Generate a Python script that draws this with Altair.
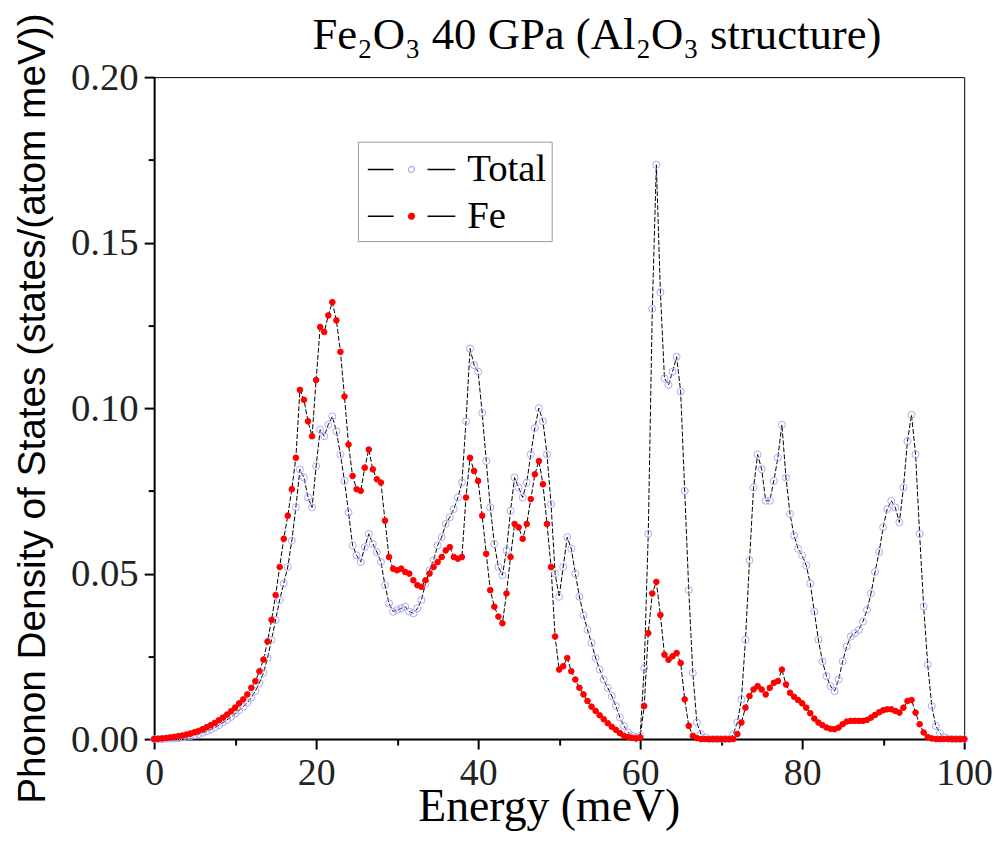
import altair as alt
import pandas as pd

# Energy grid (meV), 0.5 meV steps
energy = [i * 0.5 for i in range(201)]

# Total phonon DOS (states/(atom meV))
total = [
    0, 0, 0, 0.0001, 0.0001, 0.0002, 0.0003, 0.0005, 0.0007, 0.0009,
    0.0012, 0.0015, 0.0019, 0.0024, 0.0029, 0.0035, 0.0042, 0.0050, 0.0058, 0.0067,
    0.0077, 0.0087, 0.0098, 0.0110, 0.0125, 0.0145, 0.0170, 0.0200, 0.0245, 0.0300,
    0.0360, 0.0420, 0.0470, 0.0520, 0.0600, 0.0700, 0.0815, 0.0790, 0.0730, 0.0700,
    0.0825, 0.0935, 0.0915, 0.0950, 0.0975, 0.0930, 0.0860, 0.0780, 0.0685, 0.0585,
    0.0555, 0.0535, 0.0580, 0.0620, 0.0590, 0.0565, 0.0535, 0.0465, 0.0410, 0.0385,
    0.0390, 0.0395, 0.0400, 0.0385, 0.0380, 0.0395, 0.0420, 0.0470, 0.0510, 0.0540,
    0.0585, 0.0610, 0.0650, 0.0670, 0.0695, 0.0730, 0.0775, 0.0960, 0.1180, 0.1130,
    0.1110, 0.0985, 0.0840, 0.0700, 0.0590, 0.0520, 0.0495, 0.0570, 0.0690, 0.0790,
    0.0760, 0.0730, 0.0775, 0.0860, 0.0940, 0.1000, 0.0960, 0.0860, 0.0710, 0.0500,
    0.0430, 0.0520, 0.0610, 0.0575, 0.0500, 0.0430, 0.0375, 0.0330, 0.0290, 0.0245,
    0.0210, 0.0180, 0.0155, 0.0130, 0.0100, 0.0065, 0.0040, 0.0020, 0.0010, 0.0005,
    0.0010, 0.0215, 0.0620, 0.1300, 0.1735, 0.1350, 0.1090, 0.1070, 0.1110, 0.1155,
    0.1050, 0.0750, 0.0450, 0.0200, 0.0050, 0.0015, 0.0005, 0, 0, 0,
    0, 0, 0, 0.0015, 0.0050, 0.0120, 0.0300, 0.0540, 0.0760, 0.0860,
    0.0815, 0.0720, 0.0720, 0.0780, 0.0850, 0.0950, 0.0790, 0.0680, 0.0615, 0.0575,
    0.0555, 0.0525, 0.0470, 0.0385, 0.0300, 0.0235, 0.0190, 0.0160, 0.0145, 0.0180,
    0.0235, 0.0280, 0.0310, 0.0320, 0.0330, 0.0355, 0.0390, 0.0440, 0.0505, 0.0565,
    0.0640, 0.0695, 0.0720, 0.0700, 0.0655, 0.0760, 0.0900, 0.0980, 0.0860, 0.0620,
    0.0400, 0.0225, 0.0100, 0.0040, 0.0018, 0.0006, 0.0002, 0, 0, 0,
    0,
]

# Fe partial DOS
fe = [
    0.0000, 0.0001, 0.0002, 0.0003, 0.0005, 0.0007, 0.0009, 0.0011, 0.0014, 0.0017,
    0.0021, 0.0025, 0.0030, 0.0036, 0.0042, 0.0049, 0.0057, 0.0065, 0.0074, 0.0084,
    0.0095, 0.0108, 0.0120, 0.0135, 0.0155, 0.0175, 0.0205, 0.0240, 0.0295, 0.0360,
    0.0435, 0.0520, 0.0605, 0.0675, 0.0755, 0.0850, 0.1055, 0.1025, 0.0960, 0.0915,
    0.1085, 0.1245, 0.1230, 0.1280, 0.1320, 0.1265, 0.1170, 0.1035, 0.0890, 0.0795,
    0.0755, 0.0750, 0.0820, 0.0875, 0.0815, 0.0785, 0.0775, 0.0660, 0.0550, 0.0515,
    0.0510, 0.0515, 0.0505, 0.0500, 0.0480, 0.0465, 0.0460, 0.0480, 0.0500, 0.0520,
    0.0535, 0.0550, 0.0570, 0.0580, 0.0550, 0.0545, 0.0550, 0.0730, 0.0850, 0.0810,
    0.0780, 0.0675, 0.0560, 0.0450, 0.0400, 0.0370, 0.0350, 0.0440, 0.0550, 0.0650,
    0.0640, 0.0605, 0.0650, 0.0725, 0.0800, 0.0840, 0.0770, 0.0650, 0.0520, 0.0310,
    0.0210, 0.0220, 0.0245, 0.0205, 0.0180, 0.0155, 0.0135, 0.0115, 0.0098, 0.0085,
    0.0072, 0.0060, 0.0048, 0.0037, 0.0028, 0.0018, 0.0010, 0.0006, 0.0004, 0.0002,
    0.0005, 0.0100, 0.0320, 0.0440, 0.0475, 0.0375, 0.0255, 0.0240, 0.0250, 0.0260,
    0.0230, 0.0120, 0.0040, 0.0010, 0.0003, 0, 0, 0, 0, 0,
    0, 0, 0, 0, 0.0015, 0.0050, 0.0095, 0.0130, 0.0150, 0.0160,
    0.0150, 0.0135, 0.0155, 0.0170, 0.0175, 0.0210, 0.0165, 0.0140, 0.0128, 0.0118,
    0.0108, 0.0095, 0.0078, 0.0062, 0.0050, 0.0042, 0.0035, 0.0031, 0.0030, 0.0035,
    0.0045, 0.0053, 0.0055, 0.0055, 0.0055, 0.0055, 0.0058, 0.0065, 0.0073, 0.0081,
    0.0087, 0.0090, 0.0090, 0.0085, 0.0080, 0.0095, 0.0115, 0.0118, 0.0080, 0.0045,
    0.0020, 0.0006, 0.0002, 0, 0, 0, 0, 0, 0, 0,
    0,
]

series_names = ["Total", "Fe"]
legend_labels = ["Total ", "Fe "]
x_ticks = [0, 20, 40, 60, 80, 100]
x_minor = [10, 30, 50, 70, 90]
y_ticks = [0.0, 0.05, 0.10, 0.15, 0.20]
y_minor = [0.025, 0.075, 0.125, 0.175]
title_text = "Fe₂O₃ 40 GPa (Al₂O₃ structure)"

rows = []
for name, lab, vals in (("Total", legend_labels[0], total), ("Fe", legend_labels[1], fe)):
    for e, v in zip(energy, vals):
        rows.append({"energy": e, "dos": v, "series": name, "label": lab})
df = pd.DataFrame(rows)

W, H = 815, 666
LAV = "#a9a9f5"
RED = "#ff0000"
SERIF = "Liberation Serif"
SANS = "Liberation Sans"

x_enc = alt.X(
    "energy:Q",
    scale=alt.Scale(domain=[0, 100], nice=False),
    axis=alt.Axis(orient="bottom", values=x_ticks, title="Energy (meV)", format="d",
                  labelFont=SERIF, labelFontSize=38, labelColor="#222222", labelPadding=6,
                  labelFlush=False, titleFont=SERIF, titleFontSize=46, titlePadding=-8,
                  titleX=397, titleFontWeight="normal", titleColor="black",
                  domainColor="black", domainWidth=2, tickColor="black", tickWidth=2,
                  tickSize=10, grid=False),
)
y_enc = alt.Y(
    "dos:Q",
    scale=alt.Scale(domain=[0, 0.2], nice=False),
    axis=alt.Axis(orient="left", values=y_ticks, format=".2f",
                  title="Phonon Density of States (states/(atom meV))",
                  labelFont=SERIF, labelFontSize=39, labelColor="#222222", labelPadding=6,
                  titleFont=SANS, titleFontSize=39, titlePadding=18,
                  titleFontWeight="normal", titleColor="black",
                  domainColor="black", domainWidth=2, tickColor="black", tickWidth=2,
                  tickSize=10, grid=False),
)
x_plain = alt.X("energy:Q", axis=None)
y_plain = alt.Y("dos:Q", axis=None)

LEG_X, LEG_Y = 205, 65
common_leg = dict(
    orient="none", legendX=LEG_X, legendY=LEG_Y, title=None,
    symbolSize=1936, labelFont=SERIF, labelFontSize=39, padding=5,
    rowPadding=4, labelOffset=55, symbolOffset=4,
)

lines = alt.Chart(df).mark_line(color="black", strokeWidth=1, strokeDash=[5, 2]).encode(
    x=x_enc, y=y_enc,
    opacity=alt.Opacity(
        "label:N",
        scale=alt.Scale(domain=legend_labels, range=[1, 1]),
        legend=alt.Legend(
            symbolType="M-1,0H0.18M1.73,0H3", symbolStrokeColor="black",
            symbolStrokeWidth=1.6, symbolDash=[1, 0], labelColor="black",
            strokeColor="#999999", **common_leg),
    ),
)

circle_path = ("M-1,0L-1,0M3,0L3,0M1.136,0A0.136,0.136,0,1,1,0.864,0"
               "A0.136,0.136,0,1,1,1.136,0")
leg_pts = alt.Legend(symbolType=circle_path, symbolStrokeWidth=1.2, symbolOpacity=1,
                     labelOpacity=0, **common_leg)
stroke_enc = alt.Stroke("series:N", scale=alt.Scale(domain=series_names, range=[LAV, RED]),
                        legend=leg_pts)
fill_enc = alt.Fill("series:N", scale=alt.Scale(domain=series_names, range=["transparent", RED]),
                    legend=leg_pts)

pts_total = alt.Chart(df).transform_filter(alt.datum.series == "Total").mark_point(
    filled=True, strokeWidth=1, size=50, opacity=1).encode(
    x=x_plain, y=y_plain, stroke=stroke_enc, fill=fill_enc)
pts_fe = alt.Chart(df).transform_filter(alt.datum.series == "Fe").mark_point(
    filled=True, strokeWidth=1, size=32, opacity=1).encode(
    x=x_plain, y=y_plain, stroke=stroke_enc, fill=fill_enc)

minor_style = dict(labels=False, domain=False, tickSize=6, tickWidth=2, tickColor="black",
                   title=None, grid=False)
xminor = alt.Chart(pd.DataFrame({"energy": x_minor})).mark_rule(opacity=0).encode(
    x=alt.X("energy:Q", axis=alt.Axis(orient="bottom", values=x_minor, **minor_style)))
yminor = alt.Chart(pd.DataFrame({"dos": y_minor})).mark_rule(opacity=0).encode(
    y=alt.Y("dos:Q", axis=alt.Axis(orient="left", values=y_minor, **minor_style)))
# chart title carried by an otherwise empty top axis
toptitle = alt.Chart(pd.DataFrame({"energy": x_minor})).mark_rule(opacity=0).encode(
    x=alt.X("energy:Q", axis=alt.Axis(orient="top", labels=False, ticks=False, domain=False,
                                      grid=False, title=title_text, titleFont=SERIF,
                                      titleFontSize=45, titleFontWeight="normal",
                                      titleColor="black", titlePadding=20, titleX=445)))

chart = alt.layer(lines, pts_total, pts_fe, xminor, yminor, toptitle).resolve_axis(
    x="independent", y="independent"
).properties(
    width=W, height=H,
    padding={"left": 147, "top": 67, "right": 30, "bottom": 100},
    autosize=alt.AutoSizeParams(type="none"),
).configure_view(stroke="black", strokeWidth=1)

chart.save("out.html", embed_options={"renderer": "svg", "actions": False})
